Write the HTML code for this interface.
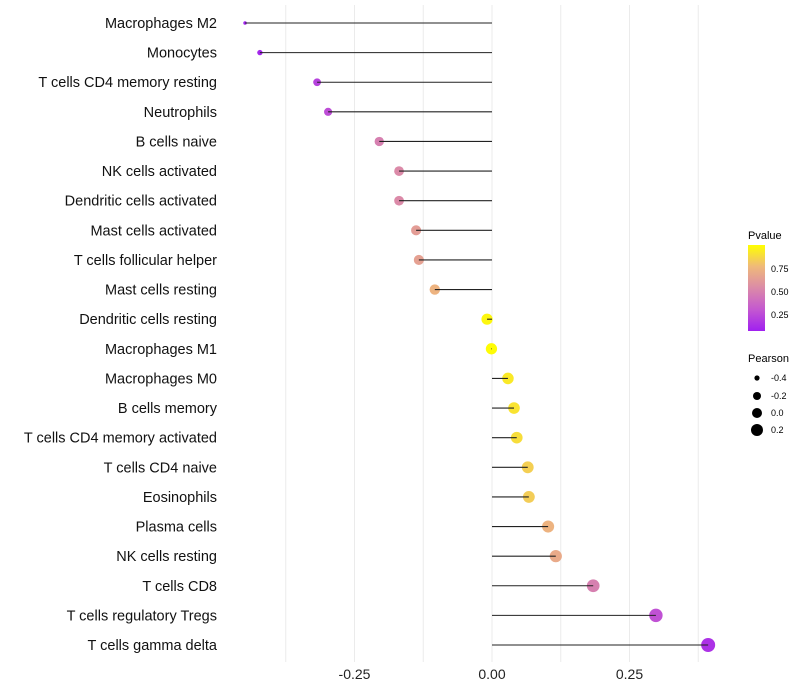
<!DOCTYPE html>
<html><head><meta charset="utf-8"><style>
body{margin:0;background:#fff;}
svg{display:block;font-family:"Liberation Sans",sans-serif;}
</style></head><body>
<svg id="chart" width="800" height="700" viewBox="0 0 800 700">
<defs><linearGradient id="pg" x1="0" y1="1" x2="0" y2="0">
<stop offset="0" stop-color="#a020f0"/><stop offset="0.25" stop-color="#c458d0"/><stop offset="0.5" stop-color="#db8aa8"/><stop offset="0.75" stop-color="#efb97a"/><stop offset="1" stop-color="#ffff00"/></linearGradient></defs>
<g id="grid"></g>
<g id="marks"></g>
<g id="labels"></g>
<g id="xaxis"></g>
<g>
<text x="748" y="239" font-size="11">Pvalue</text>
<rect x="748" y="245" width="17" height="86" fill="url(#pg)"/>
<text x="771" y="272" font-size="9">0.75</text>
<text x="771" y="295" font-size="9">0.50</text>
<text x="771" y="318" font-size="9">0.25</text>
</g>
<g>
<text x="748" y="362" font-size="11">Pearson</text>
<circle cx="757" cy="378" r="2.6" fill="#000"/><text x="771" y="381" font-size="9">-0.4</text>
<circle cx="757" cy="396" r="4" fill="#000"/><text x="771" y="399" font-size="9">-0.2</text>
<circle cx="757" cy="413" r="5" fill="#000"/><text x="771" y="416" font-size="9">0.0</text>
<circle cx="757" cy="430" r="6" fill="#000"/><text x="771" y="433" font-size="9">0.2</text>
</g>
</svg>
<script>
const categories=["Macrophages M2","Monocytes","T cells CD4 memory resting","Neutrophils","B cells naive","NK cells activated","Dendritic cells activated","Mast cells activated","T cells follicular helper","Mast cells resting","Dendritic cells resting","Macrophages M1","Macrophages M0","B cells memory","T cells CD4 memory activated","T cells CD4 naive","Eosinophils","Plasma cells","NK cells resting","T cells CD8","T cells regulatory  Tregs","T cells gamma delta"];
const pearson=[-0.449,-0.422,-0.318,-0.298,-0.205,-0.169,-0.169,-0.138,-0.133,-0.104,-0.009,-0.001,0.029,0.040,0.045,0.065,0.067,0.102,0.116,0.184,0.298,0.393];
const pvalue=[0.01,0.03,0.15,0.2,0.45,0.5,0.5,0.6,0.62,0.72,0.97,0.99,0.92,0.9,0.88,0.83,0.82,0.72,0.67,0.45,0.22,0.08];
const xTicks=[-0.25,0,0.25];
const xTickLabels=["-0.25","0.00","0.25"];
const NS="http://www.w3.org/2000/svg";
const X=v=>492+v*550;
const Y=i=>23+i*(622/21);
const R=v=>{const t=Math.max(0,Math.min(1,(v+0.45)/0.84));return 1.5+5.5*Math.pow(t,0.45);};
const stops=[[0,[160,32,240]],[0.25,[196,88,208]],[0.5,[219,138,168]],[0.75,[239,185,122]],[1,[255,255,0]]];
function col(p){p=Math.max(0,Math.min(1,p));for(let k=1;k<stops.length;k++){if(p<=stops[k][0]){const a=stops[k-1],b=stops[k],t=(p-a[0])/(b[0]-a[0]);return "rgb("+a[1].map((c,j)=>Math.round(c+(b[1][j]-c)*t)).join(",")+")";}}return "rgb(255,255,0)";}
function mk(t,at,parent){const e=document.createElementNS(NS,t);for(const k in at)e.setAttribute(k,at[k]);parent.appendChild(e);return e;}
const grid=document.getElementById('grid'),marks=document.getElementById('marks'),labels=document.getElementById('labels'),xaxis=document.getElementById('xaxis');
for(let g=-0.375;g<=0.4;g+=0.125){const l=mk('line',{x1:X(g),x2:X(g),y1:5,y2:662,stroke:'#ebebeb','stroke-width':1},grid);

}
categories.forEach((c,i)=>{
const y=Y(i);
const ci=mk('circle',{cx:X(pearson[i]),cy:y,r:R(pearson[i]),fill:col(pvalue[i])},marks);


const ln=mk('line',{x1:X(0),x2:X(pearson[i]),y1:y,y2:y,stroke:'#222','stroke-width':1.1},marks);


const tx=mk('text',{x:217,y:y+5,'text-anchor':'end','font-size':14.5,fill:'#111'},labels);
tx.textContent=c;


});
xTicks.forEach((v,i)=>{
const t=mk('text',{x:X(v),y:679,'text-anchor':'middle','font-size':14,fill:'#222'},xaxis);
t.textContent=xTickLabels[i];


});
</script>
</body></html>
